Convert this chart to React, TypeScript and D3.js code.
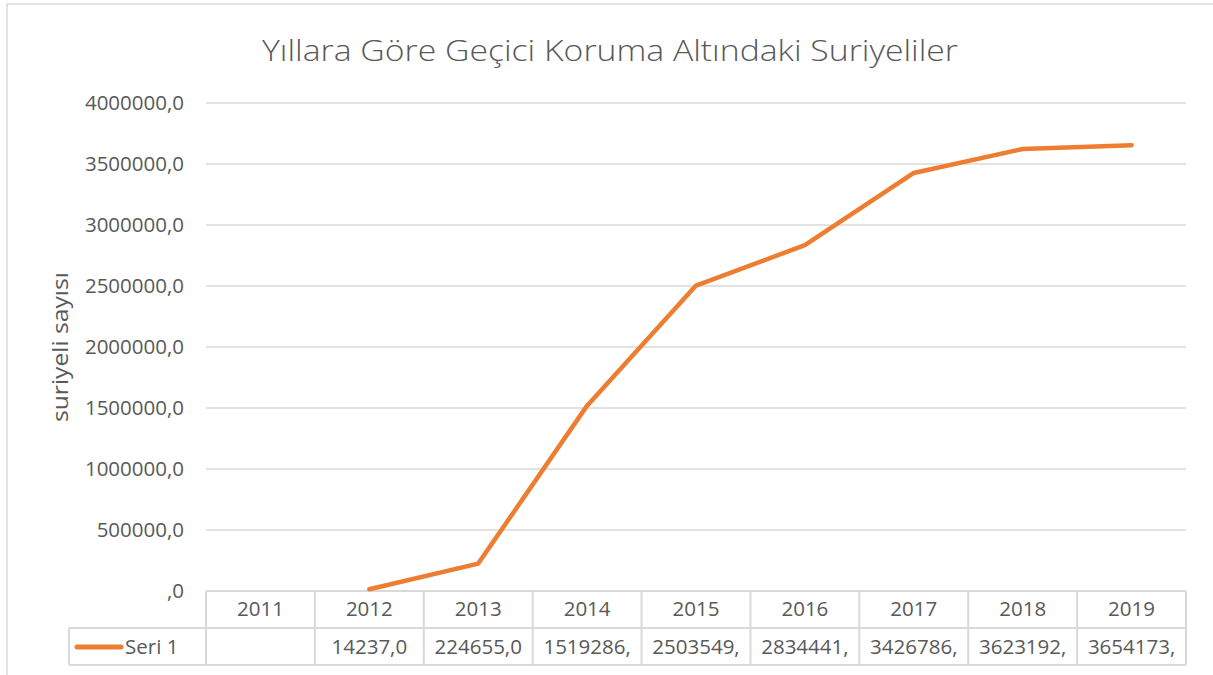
import React from "react";
import * as d3 from "d3";

const title = "Yıllara Göre Geçici Koruma Altındaki Suriyeliler";
const yAxisTitle = "suriyeli sayısı";
const seriesName = "Seri 1";
const years = ["2011", "2012", "2013", "2014", "2015", "2016", "2017", "2018", "2019"];
const values: (number | null)[] = [null, 14237, 224655, 1519286, 2503549, 2834441, 3426786, 3623192, 3654173];
const yTicks = [0, 500000, 1000000, 1500000, 2000000, 2500000, 3000000, 3500000, 4000000];

const W = 1213;
const H = 675;
const plotLeft = 206;
const plotRight = 1186;
const plotTop = 103;
const plotBottom = 591;
const rowH = 37;
const legendLeft = 69;

const FONT = "'Open Sans', 'DejaVu Sans', sans-serif";
const TEXT = "#595959";
const GRID = "#d9d9d9";
const ORANGE = "#ED7D31";
const FS = 20.5;

const fmtTick = (v: number) => (v === 0 ? "" : String(v)) + ",0";
const fmtCell = (v: number | null) => (v == null ? "" : (String(v) + ",0").slice(0, 8));

export default function App() {
  const x = d3.scaleBand<string>().domain(years).range([plotLeft, plotRight]).paddingInner(0).paddingOuter(0);
  const y = d3.scaleLinear().domain([0, 4000000]).range([plotBottom, plotTop]);
  const pts = years.map((yr, i) => ({ yr, v: values[i] }));
  const line = d3
    .line<{ yr: string; v: number | null }>()
    .defined((d) => d.v != null)
    .x((d) => (x(d.yr) as number) + x.bandwidth() / 2)
    .y((d) => y(d.v as number));

  const bw = x.bandwidth();
  const row1Top = plotBottom;
  const row2Top = plotBottom + rowH;
  const row2Bot = plotBottom + 2 * rowH;

  return (
    <svg width={W} height={H} style={{ position: "absolute", left: 0, top: 0, background: "#fff" }} fontFamily={FONT}>
      <rect x={0} y={0} width={W} height={H} fill="#fff" />
      <rect x={7} y={4} width={W + 20} height={H + 20} fill="#fff" stroke={GRID} strokeWidth={1.5} />
      <text x={610} y={61} textAnchor="middle" fontSize={30} fill={TEXT} fontWeight={300} textLength={696} lengthAdjust="spacingAndGlyphs">
        {title}
      </text>
      {yTicks.map((t) => (
        <g key={t}>
          {t !== 0 && (
            <line x1={plotLeft} x2={plotRight} y1={y(t)} y2={y(t)} stroke={GRID} strokeWidth={1.5} />
          )}
          <text x={184} y={y(t) + 7} textAnchor="end" fontSize={FS} fill={TEXT}>
            {fmtTick(t)}
          </text>
        </g>
      ))}
      <text transform={`translate(68,${(plotTop + plotBottom) / 2}) rotate(-90)`} textAnchor="middle" fontSize={22} fill={TEXT} textLength={150} lengthAdjust="spacingAndGlyphs">
        {yAxisTitle}
      </text>
      {/* data table */}
      <g stroke={GRID} strokeWidth={2} fill="none">
        <line x1={plotLeft} x2={plotRight} y1={row1Top} y2={row1Top} />
        <line x1={legendLeft} x2={plotRight} y1={row2Top} y2={row2Top} />
        <line x1={legendLeft} x2={plotRight} y1={row2Bot} y2={row2Bot} />
        <line x1={legendLeft} x2={legendLeft} y1={row2Top} y2={row2Bot} />
        {years.map((yr) => (
          <line key={yr} x1={x(yr)} x2={x(yr)} y1={row1Top} y2={row2Bot} />
        ))}
        <line x1={plotRight} x2={plotRight} y1={row1Top} y2={row2Bot} />
      </g>
      {years.map((yr, i) => (
        <g key={yr}>
          <text x={(x(yr) as number) + bw / 2} y={row1Top + 25} textAnchor="middle" fontSize={FS} fill={TEXT}>
            {yr}
          </text>
          <text x={(x(yr) as number) + bw / 2} y={row2Top + 26} textAnchor="middle" fontSize={FS} fill={TEXT}>
            {fmtCell(values[i])}
          </text>
        </g>
      ))}
      <line x1={77} x2={121} y1={row2Top + 19} y2={row2Top + 19} stroke={ORANGE} strokeWidth={5} strokeLinecap="round" />
      <text x={125} y={row2Top + 26} fontSize={FS} fill={TEXT}>
        {seriesName}
      </text>
      <path d={line(pts) || ""} fill="none" stroke={ORANGE} strokeWidth={4.5} strokeLinecap="round" strokeLinejoin="round" />
    </svg>
  );
}
